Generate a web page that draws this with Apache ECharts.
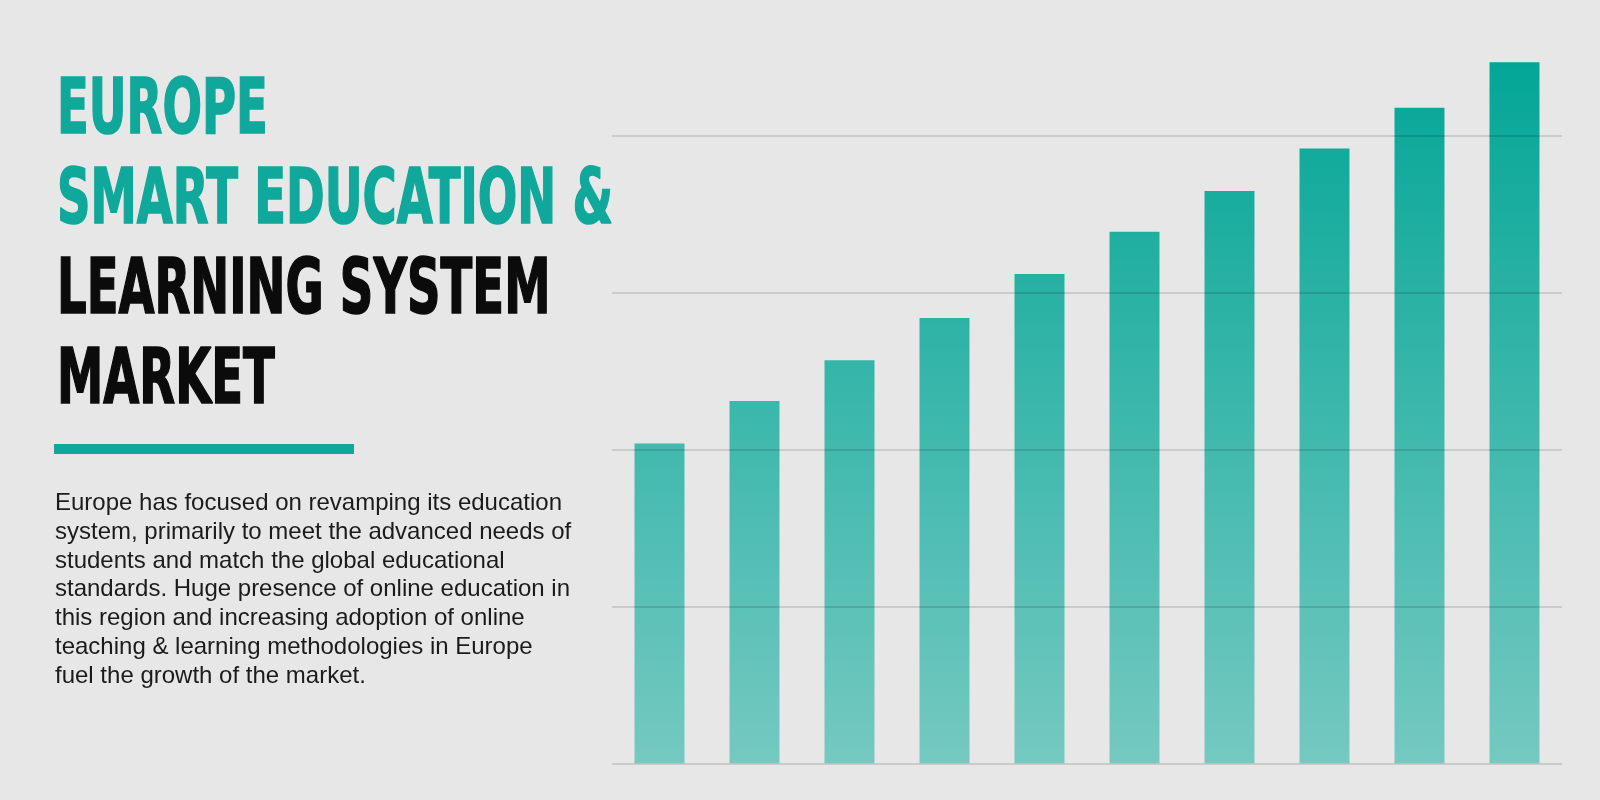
<!DOCTYPE html>
<html>
<head>
<meta charset="utf-8">
<script src="https://cdn.jsdelivr.net/npm/echarts@6/dist/echarts.min.js"></script>
<style>
html,body{margin:0;padding:0;background:#e7e7e7;}
#chart{width:1600px;height:800px;}
</style>
</head>
<body>
<div id="chart"></div>
<script>
// ---- data ----
const categories = ['2019','2020','2021','2022','2023','2024','2025','2026','2027','2028'];
const marketValues = [2.04, 2.31, 2.57, 2.84, 3.12, 3.39, 3.65, 3.92, 4.18, 4.47];
const titleTealLines = ['EUROPE', 'SMART EDUCATION &'];
const titleDarkLines = ['LEARNING SYSTEM', 'MARKET'];
const paragraphLines = [
  'Europe has focused on revamping its education',
  'system, primarily to meet the advanced needs of',
  'students and match the global educational',
  'standards. Huge presence of online education in',
  'this region and increasing adoption of online',
  'teaching & learning methodologies in Europe',
  'fuel the growth of the market.'
];

// ---- styles ----
const TEAL = '#0fa89a';
const DARK = '#0b0b0b';
const TITLE_FONT_FAMILY = '"Liberation Sans Narrow", "DejaVu Sans Condensed", Roboto, "Liberation Sans", sans-serif';
const TITLE_SIZE = 76;
const TITLE_PITCH = 90;

const mctx = document.createElement('canvas').getContext('2d');
mctx.font = 'bold ' + TITLE_SIZE + 'px ' + TITLE_FONT_FAMILY;
const titleScaleX = 556 / mctx.measureText(titleTealLines[1]).width;

const titleAll = titleTealLines.map(t => ({t, c: TEAL})).concat(titleDarkLines.map(t => ({t, c: DARK})));
const graphics = titleAll.map((o, i) => ({
  type: 'text',
  x: 57,
  y: 75 + i * TITLE_PITCH,
  scaleX: titleScaleX,
  style: {
    text: o.t,
    fill: o.c,
    stroke: o.c,
    lineWidth: 1.6,
    font: 'bold ' + TITLE_SIZE + 'px ' + TITLE_FONT_FAMILY,
    lineHeight: TITLE_SIZE,
    align: 'left',
    verticalAlign: 'top'
  }
}));
graphics.push({
  type: 'rect',
  shape: {x: 54, y: 444, width: 300, height: 10},
  style: {fill: TEAL}
});
graphics.push({
  type: 'text',
  x: 55,
  y: 489,
  style: {
    text: paragraphLines.join('\n'),
    fill: '#1b1b1b',
    font: '24px "Liberation Sans", Arial, sans-serif',
    lineHeight: 28.8,
    align: 'left',
    verticalAlign: 'top'
  }
});

const chart = echarts.init(document.getElementById('chart'), null, {renderer: 'canvas'});
chart.setOption({
  backgroundColor: '#e7e7e7',
  animation: false,
  grid: {left: 612, right: 38, top: 57.6, bottom: 36.7, containLabel: false},
  xAxis: {
    type: 'category',
    data: categories,
    axisLine: {show: false},
    axisTick: {show: false},
    axisLabel: {show: false},
    splitLine: {show: false}
  },
  yAxis: {
    type: 'value',
    min: 0,
    max: 4.5,
    interval: 1,
    z: 3,
    axisLine: {show: false},
    axisTick: {show: false},
    axisLabel: {show: false},
    splitLine: {
      show: true,
      showMaxLine: false,
      lineStyle: {color: 'rgba(0,0,0,0.12)', width: 2}
    }
  },
  series: [{
    type: 'bar',
    data: marketValues,
    barWidth: '52.6%',
    itemStyle: {
      color: {
        type: 'linear', x: 0, y: 62, x2: 0, y2: 763, global: true,
        colorStops: [
          {offset: 0, color: '#03a696'},
          {offset: 1, color: '#75c9c1'}
        ]
      }
    },
    emphasis: {disabled: true}
  }],
  graphic: graphics
});
</script>
</body>
</html>
